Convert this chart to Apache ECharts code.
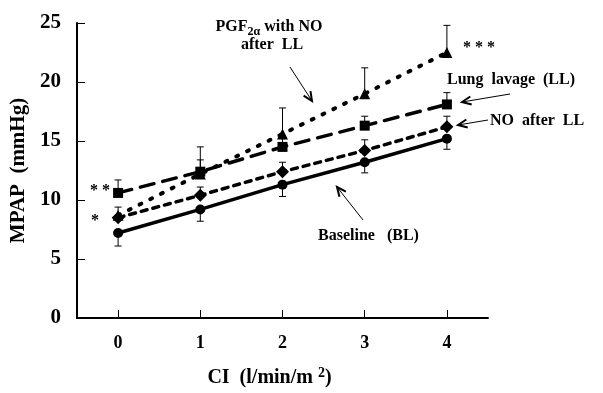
<!DOCTYPE html>
<html>
<head>
<meta charset="utf-8">
<script src="https://cdn.jsdelivr.net/npm/echarts@6/dist/echarts.min.js"></script>
<style>
  html, body { margin: 0; padding: 0; background: #fff; }
  #chart { width: 603px; height: 393px; }
</style>
</head>
<body>
<div id="chart"></div>
<script>
// CI values (x axis)
const ciValues = [0, 1, 2, 3, 4];
const yTicks = [0, 5, 10, 15, 20, 25];

// MPAP means per group
const baseline = [7.2, 9.2, 11.3, 13.2, 15.2];
const noAfterLL = [8.5, 10.4, 12.4, 14.2, 16.2];
const lungLavage = [10.6, 12.4, 14.5, 16.3, 18.1];
const pgfWithNO = [8.7, 12.2, 15.6, 19.0, 22.5];

// error bar ends (one side only, as drawn)
const baselineErrLow = [6.1, 8.2, 10.3, 12.3, 14.3];
const noAfterLLErrHigh = [9.4, 11.1, 13.2, 15.1, 17.1];
const lungLavageErrHigh = [11.7, 13.4, 15.2, 17.1, 19.1];
const pgfErrHigh = [null, 14.5, 17.8, 21.2, 24.8];

const FONT = 'Liberation Serif';

const pairs = (ys) => ciValues.map((x, i) => [x, ys[i]]);
const errPairs = (ys, ends) =>
    ciValues
        .map((x, i) => [x, ys[i], ends[i]])
        .filter((d) => d[2] != null);

function errorSeries(ys, ends) {
    return {
        type: 'custom',
        data: errPairs(ys, ends),
        encode: { x: 0, y: [1, 2] },
        z: 1,
        silent: true,
        renderItem: function (params, api) {
            const p1 = api.coord([api.value(0), api.value(1)]);
            const p2 = api.coord([api.value(0), api.value(2)]);
            const st = { stroke: '#000', lineWidth: 1 };
            return {
                type: 'group',
                children: [
                    { type: 'line', shape: { x1: p1[0], y1: p1[1], x2: p2[0], y2: p2[1] }, style: st },
                    { type: 'line', shape: { x1: p2[0] - 3.5, y1: p2[1], x2: p2[0] + 3.5, y2: p2[1] }, style: st },
                ],
            };
        },
    };
}

function lineSeries(name, ys, symbol, size, width, dash) {
    return {
        name: name,
        type: 'line',
        data: pairs(ys),
        symbol: symbol,
        symbolSize: size,
        z: 3,
        itemStyle: { color: '#000' },
        lineStyle: { color: '#000', width: width, type: dash, cap: dash === 'solid' ? 'butt' : 'round' },
    };
}

// annotation arrow: thin shaft with an open V head
function arrow(x1, y1, x2, y2) {
    const a = Math.atan2(y2 - y1, x2 - x1);
    const h = 10, w = 0.42;
    return [
        { type: 'line', shape: { x1: x1, y1: y1, x2: x2, y2: y2 }, style: { stroke: '#000', lineWidth: 1 } },
        {
            type: 'polyline',
            shape: {
                points: [
                    [x2 - h * Math.cos(a - w), y2 - h * Math.sin(a - w)],
                    [x2, y2],
                    [x2 - h * Math.cos(a + w), y2 - h * Math.sin(a + w)],
                ],
            },
            style: { stroke: '#000', lineWidth: 2, fill: null },
        },
    ];
}

function label(text, x, y, align, size) {
    return {
        type: 'text',
        x: x,
        y: y,
        style: {
            text: text,
            fill: '#000',
            font: 'bold ' + (size || 16) + 'px "' + FONT + '"',
            align: align || 'left',
            verticalAlign: 'middle',
        },
    };
}

const chart = echarts.init(document.getElementById('chart'));

chart.setOption({
    backgroundColor: '#fff',
    animation: false,
    grid: { left: 76, right: 115, top: 23, bottom: 70 },
    xAxis: {
        type: 'value',
        min: -0.5,
        max: 4.5,
        name: 'CI  (l/min/m {sup|2})',
        nameLocation: 'middle',
        nameGap: 48,
        nameTextStyle: {
            fontFamily: FONT,
            fontWeight: 'bold',
            fontSize: 20,
            color: '#000',
            padding: [0, 26, 0, 0],
            rich: {
                sup: { fontFamily: FONT, fontWeight: 'bold', fontSize: 14, verticalAlign: 'top', padding: [0, 0, 10, 0] },
            },
        },
        axisLine: { onZero: false, lineStyle: { color: '#000', width: 2 } },
        axisTick: { inside: true, length: 8, customValues: ciValues, lineStyle: { color: '#000', width: 1 } },
        axisLabel: {
            customValues: ciValues,
            margin: 16,
            fontFamily: FONT,
            fontWeight: 'bold',
            fontSize: 18,
            color: '#000',
        },
        splitLine: { show: false },
    },
    yAxis: {
        type: 'value',
        min: 0,
        max: 25,
        interval: 5,
        name: 'MPAP  (mmHg)',
        nameLocation: 'middle',
        nameGap: 48,
        nameTextStyle: { fontFamily: FONT, fontWeight: 'bold', fontSize: 21, color: '#000' },
        axisLine: { show: true, onZero: false, lineStyle: { color: '#000', width: 2 } },
        axisTick: { show: true, inside: true, length: 8, lineStyle: { color: '#000', width: 1 } },
        axisLabel: {
            margin: 16,
            fontFamily: FONT,
            fontWeight: 'bold',
            fontSize: 21,
            color: '#000',
        },
        splitLine: { show: false },
    },
    series: [
        errorSeries(baseline, baselineErrLow),
        errorSeries(noAfterLL, noAfterLLErrHigh),
        errorSeries(lungLavage, lungLavageErrHigh),
        errorSeries(pgfWithNO, pgfErrHigh),
        lineSeries('PGF2α with NO after LL', pgfWithNO, 'triangle', 11, 4, [2, 10]),
        lineSeries('Lung lavage (LL)', lungLavage, 'rect', 10, 3.5, [14, 9]),
        lineSeries('NO after LL', noAfterLL, 'diamond', 13, 3.5, [6, 6]),
        lineSeries('Baseline (BL)', baseline, 'circle', 10, 3.5, 'solid'),
    ],
    graphic: [
        {
            type: 'text',
            x: 269,
            y: 27,
            style: {
                text: '{a|PGF}{s|2α}{a| with NO}',
                align: 'center',
                verticalAlign: 'middle',
                rich: {
                    a: { font: 'bold 16px "' + FONT + '"', fill: '#000' },
                    s: { font: 'bold 12px "' + FONT + '"', fill: '#000', padding: [10, 0, 0, 0] },
                },
            },
        },
        label('after  LL', 272, 45, 'center'),
        label('* * *', 463, 48, 'left', 16),
        label('Lung  lavage  (LL)', 447, 80, 'left'),
        label('NO  after  LL', 490, 121, 'left'),
        label('Baseline   (BL)', 318, 236, 'left'),
        label('* *', 90, 191, 'left', 16),
        label('*', 91, 221, 'left', 16),
        ...arrow(290, 67, 312, 101),
        ...arrow(510, 94, 462, 102),
        ...arrow(488, 120, 458, 125),
        ...arrow(363, 220, 337, 187),
    ],
});
</script>
</body>
</html>
